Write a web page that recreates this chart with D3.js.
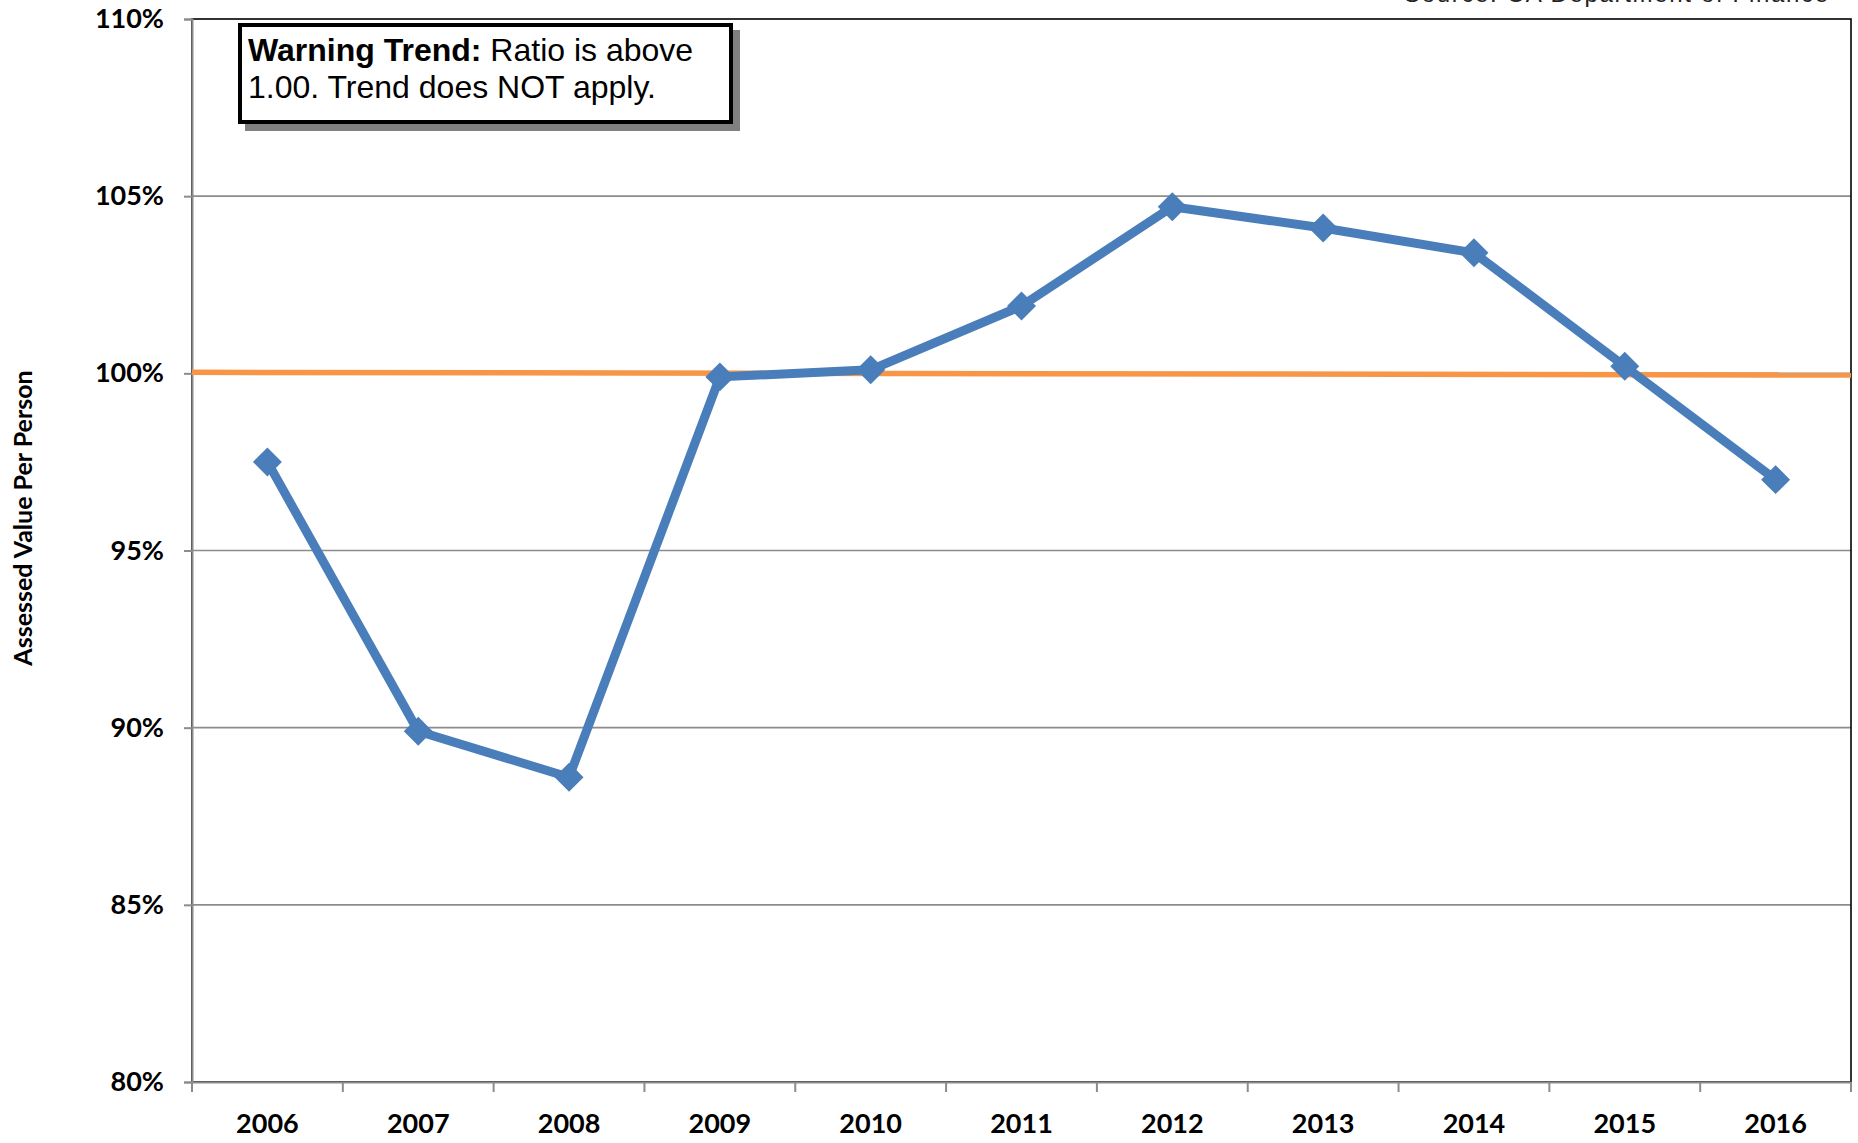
<!DOCTYPE html>
<html>
<head>
<meta charset="utf-8">
<script src="https://cdn.jsdelivr.net/npm/d3@7"></script>
<style>
  html, body { margin: 0; padding: 0; background: #fff; }
  svg { display: block; }
</style>
</head>
<body>
<svg id="chart" width="1858" height="1143"></svg>
<script>
// ---- data ----
const years = ["2006","2007","2008","2009","2010","2011","2012","2013","2014","2015","2016"];
const ratioValues = [97.5, 89.9, 88.6, 99.9, 100.1, 101.9, 104.7, 104.1, 103.4, 100.2, 97.0];
const referenceLine = [100.03, 99.95]; // start / end of the orange 1.00 line
const yTicks = [80, 85, 90, 95, 100, 105, 110];
const yTitle = "Assessed Value Per Person";
const sourceText = "Source: CA Department of Finance";
const warnBold = "Warning Trend:";
const warnLine1 = " Ratio is above";
const warnLine2 = "1.00. Trend does NOT apply.";

// ---- layout ----
const X0 = 192, X1 = 1851, Y0 = 19, Y1 = 1082;
const svg = d3.select("#chart");

const x = d3.scaleBand().domain(years).range([X0, X1]).padding(0);
const y = d3.scaleLinear().domain([80, 110]).range([Y1, Y0]);
const xc = d => x(d) + x.bandwidth() / 2;

// partially clipped source text at very top (as in the reference)
svg.append("text")
  .attr("x", 1404).attr("y", 1.5)
  .attr("font-family", "Liberation Sans, Arial, sans-serif")
  .attr("font-size", 24)
  .attr("textLength", 424)
  .attr("fill", "#222")
  .text(sourceText);

// gridlines
svg.append("g").selectAll("line")
  .data(yTicks.filter(t => t > 80 && t < 110))
  .join("line")
  .attr("x1", X0).attr("x2", X1)
  .attr("y1", d => y(d)).attr("y2", d => y(d))
  .attr("stroke", "#8c8c8c").attr("stroke-width", 1.6);

// plot-area border (top/right black)
svg.append("rect")
  .attr("x", X0).attr("y", Y0)
  .attr("width", X1 - X0).attr("height", Y1 - Y0)
  .attr("fill", "none").attr("stroke", "#000").attr("stroke-width", 1.6);

// Y axis
const yAxis = d3.axisLeft(y).tickValues(yTicks).tickSize(8).tickPadding(20)
  .tickFormat(d => d + "%");
const gy = svg.append("g").attr("transform", `translate(${X0},0)`).call(yAxis);
gy.select(".domain").attr("stroke", "#8c8c8c").attr("stroke-width", 2);
gy.selectAll(".tick line").attr("stroke", "#8c8c8c").attr("stroke-width", 2);
gy.selectAll(".tick text")
  .attr("font-family", "Lato, sans-serif").attr("font-weight", "bold")
  .attr("font-size", 27).attr("fill", "#000");

// X axis (labels)
const xAxis = d3.axisBottom(x).tickSize(0).tickPadding(32);
const gx = svg.append("g").attr("transform", `translate(0,${Y1})`).call(xAxis);
gx.select(".domain").attr("stroke", "#8c8c8c").attr("stroke-width", 2);
gx.selectAll(".tick text")
  .attr("font-family", "Lato, sans-serif").attr("font-weight", "bold")
  .attr("font-size", 27).attr("fill", "#000");
// X tick marks at category boundaries
const bounds = years.map(d => x(d)).concat([X1]);
svg.append("g").selectAll("line").data(bounds).join("line")
  .attr("x1", d => d).attr("x2", d => d)
  .attr("y1", Y1).attr("y2", Y1 + 10)
  .attr("stroke", "#8c8c8c").attr("stroke-width", 2);

// Y axis title
svg.append("text")
  .attr("transform", `translate(32,518) rotate(-90)`)
  .attr("text-anchor", "middle")
  .attr("font-family", "Lato, sans-serif").attr("font-weight", "bold")
  .attr("font-size", 25).attr("fill", "#000")
  .text(yTitle);

// orange reference line
const refX = d3.scaleLinear().domain([0, 1]).range([X0, X1]);
svg.append("path")
  .datum(referenceLine)
  .attr("d", d3.line().x((d, i) => refX(i)).y(d => y(d)))
  .attr("stroke", "#f79646").attr("stroke-width", 5.5).attr("fill", "none");

// blue series
const data = years.map((yr, i) => ({ yr, v: ratioValues[i] }));
svg.append("path")
  .datum(data)
  .attr("d", d3.line().x(d => xc(d.yr)).y(d => y(d.v)))
  .attr("stroke", "#4a7ebb").attr("stroke-width", 9)
  .attr("stroke-linejoin", "round").attr("fill", "none");
const diamond = d3.symbol().type(d3.symbolSquare).size(420);
svg.append("g").selectAll("path").data(data).join("path")
  .attr("d", diamond)
  .attr("transform", d => `translate(${xc(d.yr)},${y(d.v)}) rotate(45)`)
  .attr("fill", "#4a7ebb");

// warning box
const bx = 238, by = 23, bw = 495, bh = 101;
svg.append("rect").attr("x", bx + 7).attr("y", by + 7).attr("width", bw).attr("height", bh)
  .attr("fill", "#808080");
svg.append("rect").attr("x", bx + 2).attr("y", by + 2).attr("width", bw - 4).attr("height", bh - 4)
  .attr("fill", "#fff").attr("stroke", "#000").attr("stroke-width", 4);
const t1 = svg.append("text").attr("x", 248).attr("y", 61)
  .attr("font-family", "Liberation Sans, Arial, sans-serif").attr("font-size", 32).attr("fill", "#000");
t1.append("tspan").attr("font-weight", "bold").text(warnBold);
t1.append("tspan").text(warnLine1);
svg.append("text").attr("x", 248).attr("y", 98)
  .attr("font-family", "Liberation Sans, Arial, sans-serif").attr("font-size", 32).attr("fill", "#000")
  .text(warnLine2);
</script>
</body>
</html>
